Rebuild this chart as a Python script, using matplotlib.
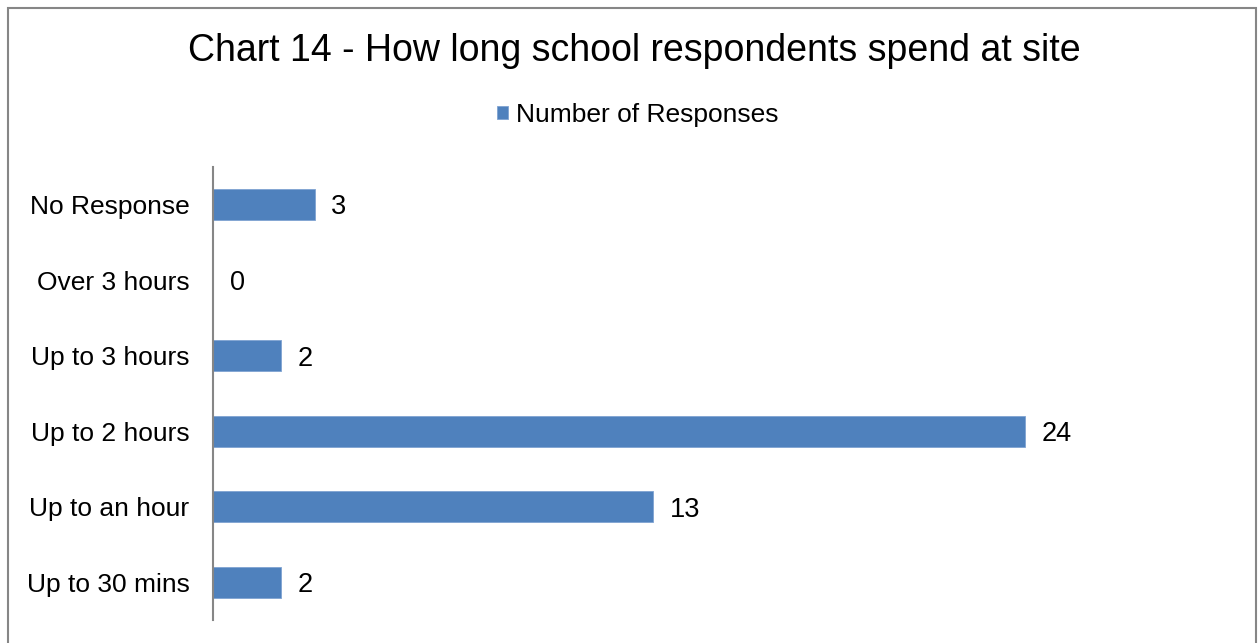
import matplotlib
matplotlib.use("Agg")
import matplotlib.pyplot as plt
from matplotlib.patches import Rectangle

plt.rcParams['font.family'] = ['Liberation Sans', 'DejaVu Sans']

categories = ["Up to 30 mins", "Up to an hour", "Up to 2 hours",
              "Up to 3 hours", "Over 3 hours", "No Response"]
responses = [2, 13, 24, 2, 0, 3]
series_name = "Number of Responses"
title = "Chart 14 - How long school respondents spend at site"

W, H = 1258, 643
fig = plt.figure(figsize=(W / 100, H / 100), dpi=100)

# chart border
fig.patches.append(Rectangle((8 / W, -0.05), (1256 - 8) / W, (H - 8) / H + 0.05,
                             transform=fig.transFigure, fill=False,
                             edgecolor='#868686', linewidth=1.5, clip_on=False))

ax = fig.add_axes([213 / W, (H - 620) / H, (1228 - 213) / W, (620 - 166.7) / H])
bar_color = '#4F81BD'
ypos = range(len(categories))
bars = ax.barh(ypos, responses, height=0.41, color=bar_color,
               edgecolor='#7FA3D2', linewidth=0.6, label=series_name)

ax.set_xlim(0, 30)
ax.set_ylim(-0.5, len(categories) - 0.5)
ax.set_yticks(list(ypos))
ax.set_yticklabels(categories, fontsize=19)
ax.tick_params(axis='y', length=0, pad=17)
ax.set_xticks([])
for s in ['top', 'right', 'bottom']:
    ax.spines[s].set_visible(False)
ax.spines['left'].set_color('#868686')
ax.spines['left'].set_linewidth(1.5)

for y, v in zip(ypos, responses):
    ax.annotate(str(v), xy=(v, y), xytext=(12, 0), textcoords='offset points',
                va='center_baseline', ha='left', fontsize=19.5)

fig.text(634 / W, 1 - 51 / H, title, ha='center', va='center', fontsize=27)

fig.legend(handles=[bars], labels=[series_name], loc='center',
           bbox_to_anchor=(638 / W, 1 - 115 / H), frameon=False, fontsize=19,
           handlelength=0.42, handleheight=0.42, handletextpad=0.3)

fig.savefig("out.png", dpi=100)
